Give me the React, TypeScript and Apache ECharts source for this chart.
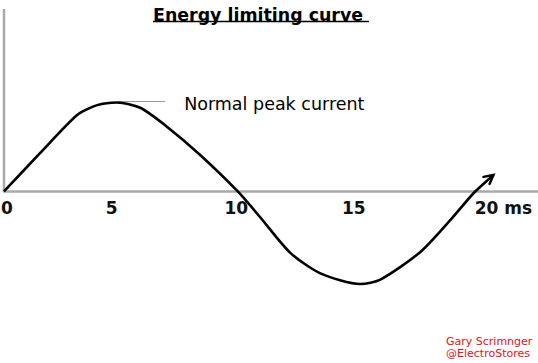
import React, { useEffect, useRef } from "react";
import * as echarts from "echarts";

// time in ms, current in units of normal peak
const curveT = [0, 1.53, 3.11, 3.96, 4.81, 5.79, 6.94, 8.34, 9.94, 10.89, 12.17, 13.45, 15.15, 16.0, 17.7, 18.98, 19.96, 20.81];
const curveI = [0, 0.43, 0.86, 0.97, 1.0, 0.94, 0.725, 0.41, 0, -0.29, -0.69, -0.92, -1.04, -0.99, -0.68, -0.32, -0.02, 0.185];
const arrowT = [20.38, 20.81, 20.64];
const arrowI = [0.163, 0.185, 0.084];
const peakLineT = [4.85, 6.85];
const peakLineI = [1.01, 1.01];
const yAxisT = [0, 0];
const yAxisI = [0, 2.05];
const xTicks = [0, 5, 10, 15, 20];
const xTickLabels = ["0", "5", "10", "15", "20 ms"];
const titleText = "Energy limiting curve ";
const annotationText = "Normal peak current";
const creditText = "Gary Scrimnger\n@ElectroStores";

const zip = (a: number[], b: number[]) => a.map((v, i) => [v, b[i]]);

export default function App() {
  const ref = useRef<HTMLDivElement>(null);
  useEffect(() => {
    document.body.style.margin = "0";
    const chart = echarts.init(ref.current!, undefined, { renderer: "svg" });
    const font = "DejaVu Sans";
    const lbl = (pad: number[]) => ({ fontSize: 17, fontWeight: "bold", fontFamily: font, color: "#111", padding: pad });
    chart.setOption({
      animation: false,
      backgroundColor: "#fff",
      title: {
        text: titleText,
        left: 153,
        top: 6,
        padding: 0,
        textStyle: { fontSize: 17.4, fontWeight: "bold", fontFamily: font, color: "#000" },
      },
      grid: { left: 4, right: 0, top: 9, bottom: 2.45, containLabel: false, outerBoundsMode: "none" },
      xAxis: {
        type: "value",
        min: 0,
        max: 22.7,
        interval: 5,
        position: "bottom",
        offset: -169.1,
        axisLine: { show: true, onZero: false, lineStyle: { color: "#a9a9a9", width: 2.5 } },
        axisTick: { show: false },
        splitLine: { show: false },
        axisLabel: {
          showMaxLabel: false,
          showMinLabel: true,
          hideOverlap: false,
          margin: 8,
          fontSize: 17,
          fontWeight: "bold",
          fontFamily: font,
          color: "#111",
          formatter: (v: number) => {
            const idx = xTicks.indexOf(v);
            if (idx < 0) return "";
            const key = ["l0", "l5", "l10", "l15", "l20"][idx];
            return "{" + key + "|" + xTickLabels[idx] + "}";
          },
          rich: {
            l0: lbl([0, 0, 0, 6]),
            l5: lbl([0, 20, 0, 0]),
            l10: lbl([0, 6, 0, 0]),
            l15: lbl([0, 6, 0, 0]),
            l20: lbl([0, 0, 0, 58]),
          },
        },
      },
      yAxis: {
        type: "value",
        min: -1.9,
        max: 2.05,
        show: false,
      },
      series: [
        {
          type: "line",
          data: zip(yAxisT, yAxisI),
          showSymbol: false,
          lineStyle: { color: "#a9a9a9", width: 2.5 },
          silent: true,
        },
        {
          type: "line",
          data: zip(peakLineT, peakLineI),
          showSymbol: false,
          lineStyle: { color: "#999", width: 1 },
          endLabel: {
            show: true,
            formatter: annotationText,
            distance: 19,
            offset: [0, 2],
            fontSize: 17.5,
            fontFamily: font,
            color: "#000",
          },
        },
        {
          type: "line",
          data: zip(curveT, curveI),
          showSymbol: false,
          smooth: 0.25,
          lineStyle: { color: "#000", width: 2.6 },
        },
        {
          type: "line",
          data: zip(arrowT, arrowI),
          showSymbol: false,
          lineStyle: { color: "#000", width: 2.4, cap: "round", join: "miter" },
        },
      ],
      graphic: [
        {
          type: "line",
          shape: { x1: 153, y1: 21.5, x2: 369, y2: 21.5 },
          style: { stroke: "#000", lineWidth: 1.5 },
        },
        {
          type: "text",
          x: 446,
          y: 335.5,
          style: {
            text: creditText,
            font: '11px "DejaVu Sans"',
            fill: "#e3121b",
            lineHeight: 12,
          },
        },
      ],
    });
    return () => chart.dispose();
  }, []);
  return <div ref={ref} style={{ width: 538, height: 363 }} />;
}
